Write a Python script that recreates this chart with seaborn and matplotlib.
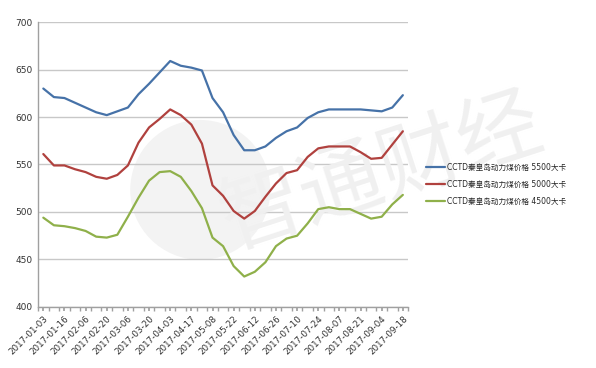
import matplotlib
matplotlib.use("Agg")
import matplotlib.pyplot as plt
import seaborn as sns
import pandas as pd
import numpy as np
from matplotlib.patches import Ellipse
from matplotlib.lines import Line2D

dates = ["2017-01-03", "2017-01-09", "2017-01-16", "2017-01-23", "2017-02-06", "2017-02-13",
         "2017-02-20", "2017-02-27", "2017-03-06", "2017-03-13", "2017-03-20", "2017-03-27",
         "2017-04-03", "2017-04-10", "2017-04-17", "2017-04-24", "2017-05-08", "2017-05-15",
         "2017-05-22", "2017-06-05", "2017-06-12", "2017-06-19", "2017-06-26", "2017-07-03",
         "2017-07-10", "2017-07-17", "2017-07-24", "2017-07-31", "2017-08-07", "2017-08-14",
         "2017-08-21", "2017-08-28", "2017-09-04", "2017-09-11", "2017-09-18"]

price_5500 = [630, 621, 620, 615, 610, 605, 602, 606, 610, 624, 635, 647, 659, 654, 652, 649, 620, 605,
              581, 565, 565, 569, 578, 585, 589, 599, 605, 608, 608, 608, 608, 607, 606, 610, 623]
price_5000 = [561, 549, 549, 545, 542, 537, 535, 539, 549, 573, 589, 598, 608, 602, 592, 572, 528, 517,
              501, 493, 501, 516, 530, 541, 544, 558, 567, 569, 569, 569, 563, 556, 557, 571, 585]
price_4500 = [494, 486, 485, 483, 480, 474, 473, 476, 495, 515, 533, 542, 543, 537, 522, 504, 473, 464,
              443, 432, 437, 447, 464, 472, 475, 488, 503, 505, 503, 503, 498, 493, 495, 508, 518]

series_names = ["CCTD秦皇岛动力煤价格 5500大卡",
                "CCTD秦皇岛动力煤价格 5000大卡",
                "CCTD秦皇岛动力煤价格 4500大卡"]
colors = ["#4672A8", "#B0413E", "#8FB04A"]

y_ticks = [400, 450, 500, 550, 600, 650, 700]

sns.set_theme(style="white")
plt.rcParams["font.family"] = ["DejaVu Sans", "Noto Sans CJK SC"]

idx = np.arange(len(dates))
df = pd.concat([
    pd.DataFrame({"idx": idx, "date": dates, "price": vals, "series": name})
    for name, vals in zip(series_names, [price_5500, price_5000, price_4500])
])

fig = plt.figure(figsize=(5.96, 3.68), dpi=100)
ax = fig.add_axes([0.0638, 0.166, 0.621, 0.774])

# faint watermark (behind the data lines)
ax.add_patch(Ellipse((0.336, 0.484), 0.235, 0.38, transform=fig.transFigure,
                     facecolor="#f3f3f3", edgecolor="none", zorder=0.5, clip_on=False))
ax.text(0.64, 0.53, "智通财经", transform=fig.transFigure, fontsize=60, color="#f0f0f0",
        rotation=18, ha="center", va="center", family=["Noto Sans CJK SC"],
        zorder=0.6, clip_on=False)

sns.lineplot(data=df, x="idx", y="price", hue="series", hue_order=series_names,
             palette=colors, linewidth=1.6, ax=ax, legend=False, zorder=3)

ax.set_xlim(-0.5, len(dates) - 0.5)
ax.set_ylim(400, 700)
ax.set_yticks(y_ticks)
ax.set_yticklabels([str(v) for v in y_ticks], fontsize=6.5, color="#333333")
ax.yaxis.grid(True, color="#c8c8c8", linewidth=1.0, zorder=1)
ax.set_axisbelow(True)
ax.xaxis.grid(False)
ax.set_xlabel("")
ax.set_ylabel("")

ax.set_xticks(idx[::2])
ax.set_xticklabels(dates[::2], rotation=45, ha="right", rotation_mode="anchor",
                   fontsize=6.3, color="#333333")
ax.set_xticks(np.arange(-0.5, len(dates), 1), minor=True)
ax.tick_params(axis="x", which="both", length=3, color="#a0a0a0", bottom=True, pad=2)
ax.tick_params(axis="y", length=0, pad=4)

for s in ["top", "right"]:
    ax.spines[s].set_visible(False)
for s in ["left", "bottom"]:
    ax.spines[s].set_color("#a0a0a0")
    ax.spines[s].set_linewidth(1.0)

handles = [Line2D([0], [0], color=c, linewidth=1.6) for c in colors]
fig.legend(handles, series_names, loc="center left", bbox_to_anchor=(0.709, 0.50),
           frameon=False, fontsize=5.5, handlelength=2.5, handletextpad=0.35,
           labelspacing=1.05, borderaxespad=0)

fig.savefig("out.png", dpi=100)
